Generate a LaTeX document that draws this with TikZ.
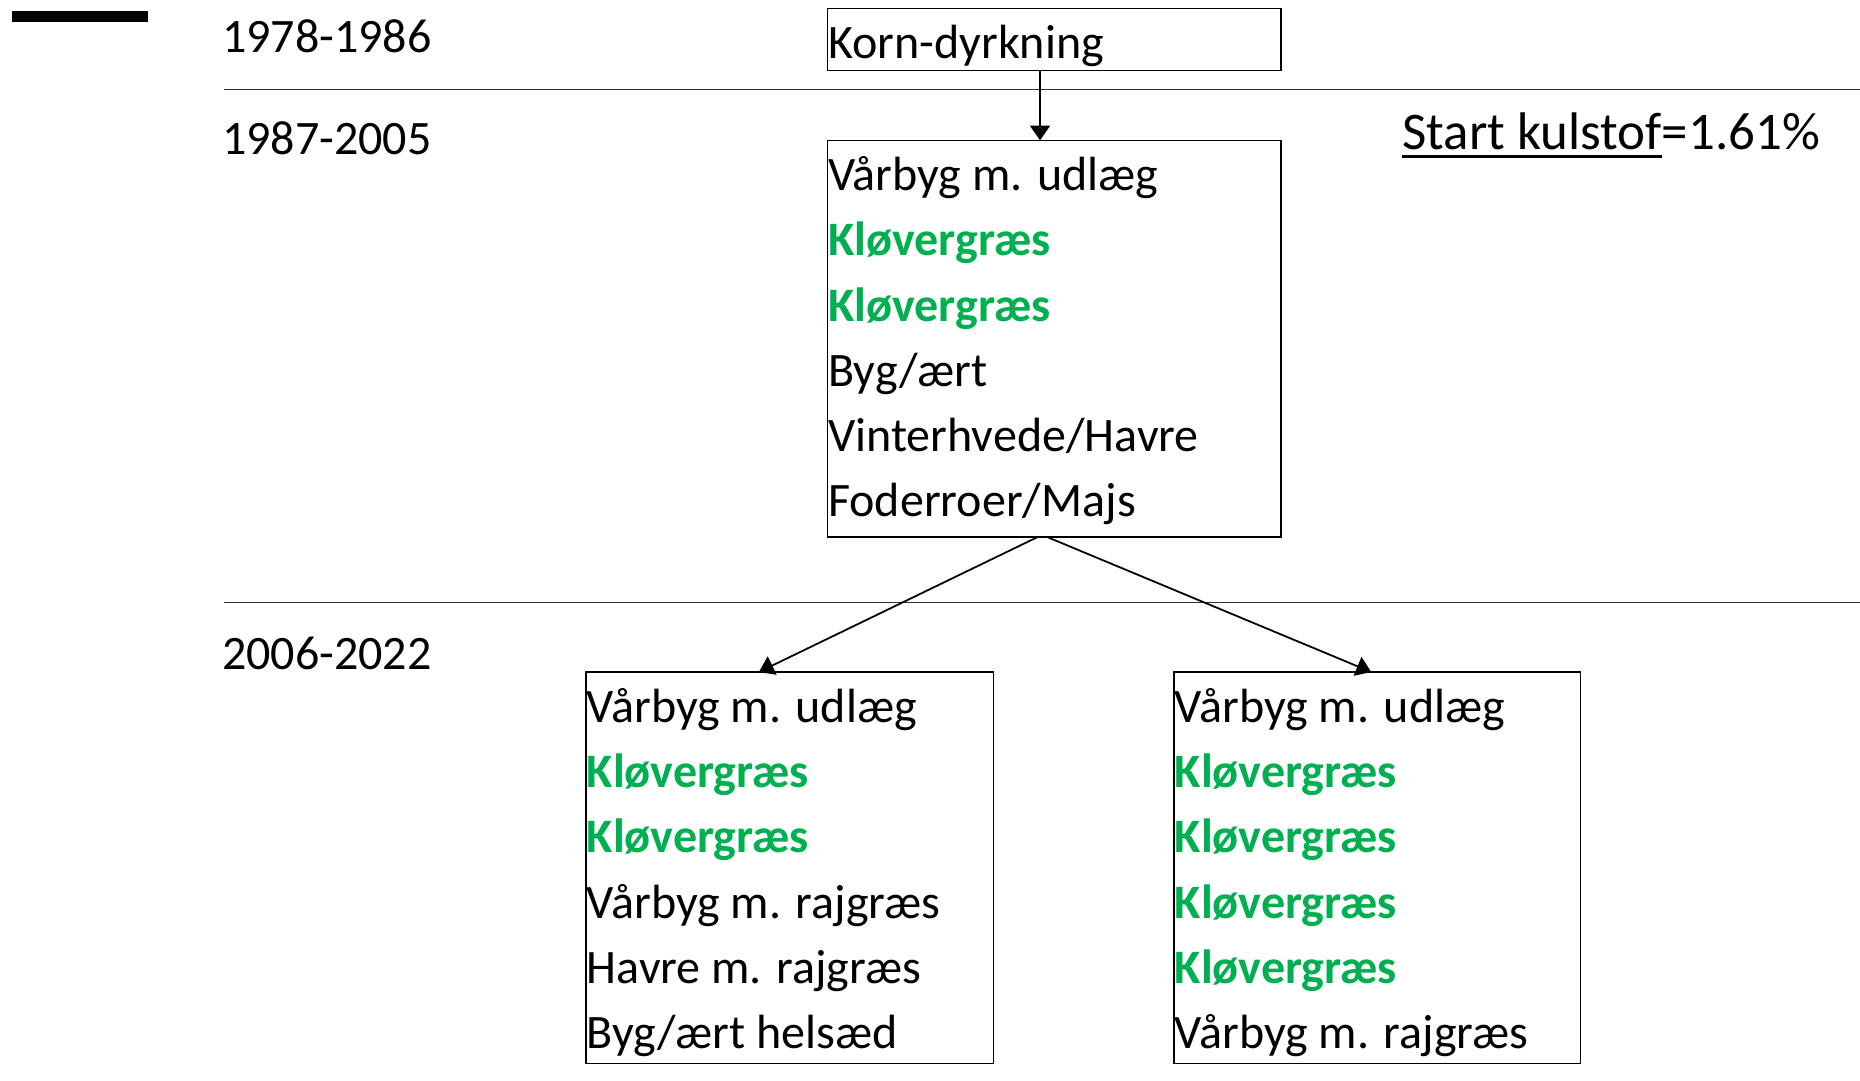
\documentclass[tikz,border=0pt]{standalone}
\usepackage{fontspec}
\setmainfont{Carlito}
\usetikzlibrary{arrows.meta}
\definecolor{kgreen}{HTML}{00B050}
\begin{document}
\begin{tikzpicture}[x=1pt,y=-1pt,
  box/.style={draw, line width=1.1pt, inner sep=0pt, outer sep=0pt, anchor=north west},
  txt/.style={inner sep=0pt, anchor=base west, font=\fontsize{40.5}{48}\selectfont},
  grn/.style={txt, text=kgreen, font=\fontsize{40.5}{48}\selectfont\bfseries},
  sep/.style={draw=black!80, line width=0.9pt},
  arr/.style={line width=1.5pt, -{Triangle[width=17pt,length=12.5pt]}}
]
\useasboundingbox (0,0) rectangle (1568,911);
% black bar
\fill (10,9.3) rectangle (124.7,18.3);
% separators
\coordinate (s1a) at (189,75.3);
\coordinate (s1b) at (1568,75.3);
\coordinate (s2a) at (189,508);
\coordinate (s2b) at (1568,508);
\draw[sep] (s1a) -- (s1b);
\draw[sep] (s2a) -- (s2b);
% year labels
\node[txt] (y1) at (187,44.3) {1978-1986};
\node[txt] (y2) at (187,130) {1987-2005};
\node[txt] (y3) at (187,564) {2006-2022};
% start carbon
\node[inner sep=0pt, anchor=base west, font=\fontsize{44.6}{52}\selectfont] (start) at (1182,126)
  {\setbox0\hbox{Start kulstof}\rlap{\rule[-6.9pt]{\wd0}{2pt}}\box0=1.61\%};
% boxes
\node[box, minimum width=382.5pt, minimum height=52.6pt] (korn) at (697.5,7) {};
\node[box, minimum width=382.5pt, minimum height=334.4pt] (mid) at (697.5,118.3) {};
\node[box, minimum width=343.5pt, minimum height=329.8pt] (left) at (494,566.5) {};
\node[box, minimum width=342.5pt, minimum height=329.8pt] (right) at (989.7,566.5) {};
% texts
\node[txt] (k1) at (698,49) {Korn-dyrkning};
\node[txt] (m1) at (698,160.7) {Vårbyg m. udlæg};
\node[grn] (m2) at (698,215.7) {Kløvergræs};
\node[grn] (m3) at (698,270.7) {Kløvergræs};
\node[txt] (m4) at (698,325.7) {Byg/ært};
\node[txt] (m5) at (698,380.7) {Vinterhvede/Havre};
\node[txt] (m6) at (698,435.7) {Foderroer/Majs};
\node[txt] (l1) at (494.5,609) {Vårbyg m. udlæg};
\node[grn] (l2) at (494.5,664) {Kløvergræs};
\node[grn] (l3) at (494.5,719) {Kløvergræs};
\node[txt] (l4) at (494.5,774) {Vårbyg m. rajgræs};
\node[txt] (l5) at (494.5,829) {Havre m. rajgræs};
\node[txt] (l6) at (494.5,884) {Byg/ært helsæd};
\node[txt] (r1) at (990.2,609) {Vårbyg m. udlæg};
\node[grn] (r2) at (990.2,664) {Kløvergræs};
\node[grn] (r3) at (990.2,719) {Kløvergræs};
\node[grn] (r4) at (990.2,774) {Kløvergræs};
\node[grn] (r5) at (990.2,829) {Kløvergræs};
\node[txt] (r6) at (990.2,884) {Vårbyg m. rajgræs};
% arrows
\draw[arr] ([xshift=-12pt]korn.south) -- ([xshift=-12pt]mid.north);
\draw[arr] ([xshift=-14pt]mid.south) -- ([xshift=-26pt]left.north);
\draw[arr] ([xshift=-6pt]mid.south) -- ([xshift=-5pt]right.north);
\end{tikzpicture}
\end{document}
